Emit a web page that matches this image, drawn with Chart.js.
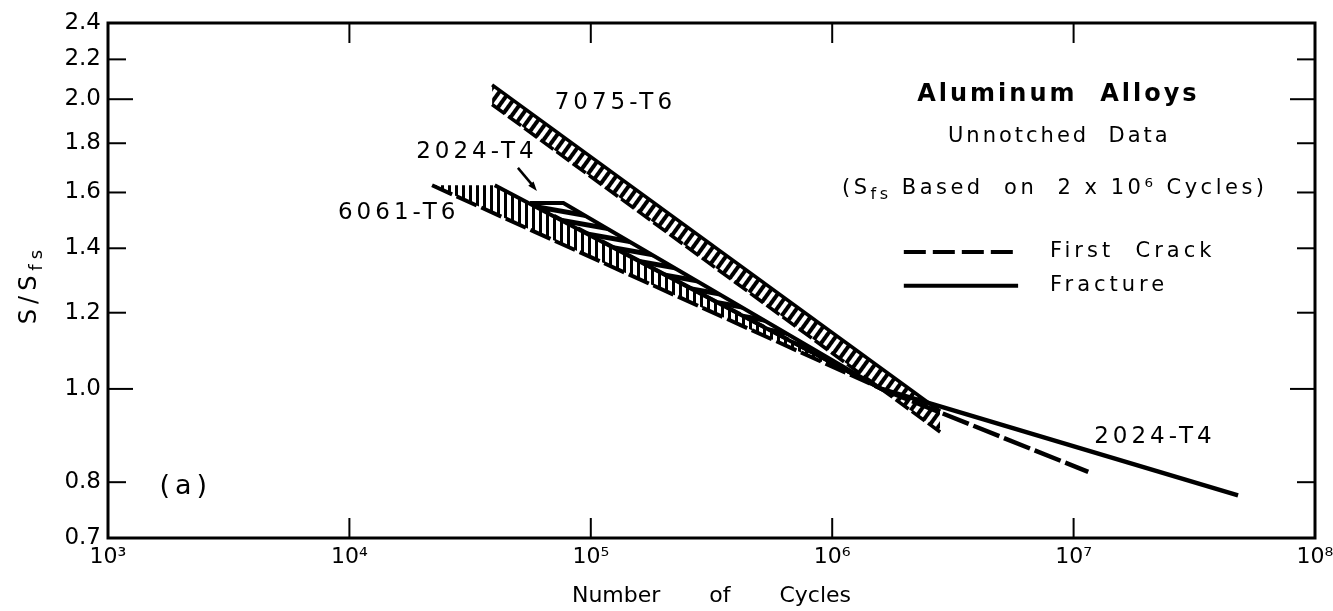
<!DOCTYPE html>
<html lang="en">
<head>
    <meta charset="UTF-8">
    <title>Aluminum Alloys - S/Sfs vs Number of Cycles</title>
    <script src="https://cdn.jsdelivr.net/npm/chart.js@4.4.0/dist/chart.umd.min.js"></script>
    <style>
        html, body { margin: 0; padding: 0; background: #fff; }
        #wrap { width: 1333px; height: 611px; }
    </style>
</head>
<body>
    <div id="wrap"><canvas id="snChart" width="1333" height="611"></canvas></div>
    <script>
        // axis ticks
        const cycleTicks = [1e3, 1e4, 1e5, 1e6, 1e7, 1e8];
        const cycleLabels = ['10³', '10⁴', '10⁵', '10⁶', '10⁷', '10⁸'];
        const ratioTicks = [0.7, 0.8, 1.0, 1.2, 1.4, 1.6, 1.8, 2.0, 2.2, 2.4];
        const ratioLabels = ['0.7', '0.8', '1.0', '1.2', '1.4', '1.6', '1.8', '2.0', '2.2', '2.4'];

        // 7075-T6 scatter band (first crack / fracture)
        const cycles7075 = [3.9e4, 2.8e6];
        const crack7075 = [1.975, 0.902];
        const fracture7075 = [2.07, 0.948];

        // 6061-T6 scatter band
        const crackCycles6061 = [2.2e4, 1.6e6];
        const crack6061 = [1.628, 1.0];
        const fractureCycles6061 = [2.2e4, 4.0e4, 1.6e6];
        const fracture6061 = [1.628, 1.628, 1.0];

        // 2024-T4 scatter band, lines go on past the crossing point
        const crackCycles2024 = [5.6e4, 1.6e6, 1.15e7];
        const crack2024 = [1.56, 1.0, 0.82];
        const fractureCycles2024 = [5.6e4, 7.7e4, 1.6e6, 4.8e7];
        const fracture2024 = [1.56, 1.56, 1.0, 0.775];
        const crossCycles = 1.6e6;

        const FONT = '"DejaVu Sans", sans-serif';
        Chart.defaults.font.family = FONT;
        Chart.defaults.color = '#000';

        const canvas = document.getElementById('snChart');
        const ctx = canvas.getContext('2d');

        function hatch(period, bar, angle) {
            const tile = document.createElement('canvas');
            tile.width = period;
            tile.height = period;
            const t = tile.getContext('2d');
            t.fillStyle = '#000';
            t.fillRect(0, 0, bar, period);
            const p = ctx.createPattern(tile, 'repeat');
            p.setTransform(new DOMMatrix().rotateSelf(angle));
            return p;
        }

        const pts = (xs, ys) => xs.map((x, i) => ({ x: x, y: ys[i] }));
        const upTo = (xs, ys, lim) => pts(xs, ys).filter(p => p.x <= lim);
        const from = (xs, ys, lim) => pts(xs, ys).filter(p => p.x >= lim);

        function line(data, extra) {
            return Object.assign({
                data: data,
                borderColor: '#000',
                borderWidth: 4,
                pointRadius: 0,
                pointHoverRadius: 0,
                fill: false,
                tension: 0,
                borderCapStyle: 'butt'
            }, extra);
        }

        // text helper: parts = [[text, size, weight, dy]]
        function drawRuns(c, parts, x, y, align, spacing) {
            c.letterSpacing = spacing + 'px';
            c.textAlign = 'left';
            c.textBaseline = 'middle';
            const fontOf = p => (p[2] || 'normal') + ' ' + p[1] + 'px ' + FONT;
            const widths = parts.map(p => { c.font = fontOf(p); return c.measureText(p[0]).width; });
            const total = widths.reduce((a, b) => a + b, 0) - spacing;
            let cx = align === 'center' ? x - total / 2 : (align === 'right' ? x - total : x);
            parts.forEach((p, i) => {
                c.font = fontOf(p);
                c.fillText(p[0], cx, y + (p[3] || 0));
                cx += widths[i];
            });
            c.letterSpacing = '0px';
        }

        const decorPlugin = {
            id: 'decor',
            afterDraw(chart) {
                const c = chart.ctx;
                const a = chart.chartArea;
                const xs = chart.scales.x, ys = chart.scales.y;
                const px = v => xs.getPixelForValue(v);
                const py = v => ys.getPixelForValue(v);
                const seg = (x1, y1, x2, y2) => { c.beginPath(); c.moveTo(x1, y1); c.lineTo(x2, y2); c.stroke(); };

                c.save();
                c.strokeStyle = '#000';
                c.fillStyle = '#000';

                // frame
                c.lineWidth = 3;
                c.strokeRect(a.left, a.top, a.right - a.left, a.bottom - a.top);

                // inward tick marks
                c.lineWidth = 2;
                ratioTicks.forEach(v => {
                    if (v === ys.min || v === ys.max) return;
                    const len = (v === 1.0 || v === 2.0) ? 25 : 18;
                    const y = py(v);
                    seg(a.left, y, a.left + len, y);
                    seg(a.right, y, a.right - len, y);
                });
                cycleTicks.forEach(v => {
                    if (v === xs.min || v === xs.max) return;
                    const x = px(v);
                    seg(x, a.bottom, x, a.bottom - 20);
                    seg(x, a.top, x, a.top + 20);
                });

                // curve labels
                drawRuns(c, [['7075-T6', 23]], px(1.24e5), py(1.983), 'center', 4);
                drawRuns(c, [['2024-T4', 23]], px(3.31e4), py(1.763), 'center', 4);
                drawRuns(c, [['6061-T6', 23]], px(1.57e4), py(1.524), 'center', 4);
                drawRuns(c, [['2024-T4', 23]], px(2.13e7), py(0.892), 'center', 4);
                drawRuns(c, [['(a)', 27]], px(2.05e3), py(0.791), 'center', 5);

                // arrow to the 2024-T4 band
                const ax1 = px(4.99e4), ay1 = py(1.697), ax2 = px(5.98e4), ay2 = py(1.606);
                c.lineWidth = 2.5;
                seg(ax1, ay1, ax2 - 3, ay2 - 4);
                const ang = Math.atan2(ay2 - ay1, ax2 - ax1);
                c.beginPath();
                c.moveTo(ax2, ay2);
                c.lineTo(ax2 - 10 * Math.cos(ang - 0.35), ay2 - 10 * Math.sin(ang - 0.35));
                c.lineTo(ax2 - 10 * Math.cos(ang + 0.35), ay2 - 10 * Math.sin(ang + 0.35));
                c.closePath();
                c.fill();

                // title block
                drawRuns(c, [['Aluminum  Alloys', 24, 'bold']], px(8.53e6), py(2.02), 'center', 3);
                drawRuns(c, [['Unnotched  Data', 21]], px(8.6e6), py(1.83), 'center', 3);
                drawRuns(c, [['(S', 21], ['fs', 16, 'normal', 6], [' Based  on  2 x 10⁶ Cycles)', 21]],
                    px(8.22e6), py(1.615), 'center', 3.5);

                // legend
                const lx1 = px(1.98e6), lx2 = px(5.89e6);
                c.lineWidth = 4;
                c.setLineDash([22, 7]);
                seg(lx1, py(1.388), lx2, py(1.388));
                c.setLineDash([]);
                seg(lx1, py(1.28), lx2, py(1.28));
                drawRuns(c, [['First  Crack', 21]], px(7.98e6), py(1.388), 'left', 4);
                drawRuns(c, [['Fracture', 21]], px(7.98e6), py(1.28), 'left', 4);

                // y axis title S/Sfs
                c.translate(ys.left + 30, py(1.276));
                c.rotate(-Math.PI / 2);
                drawRuns(c, [['S/S', 24], ['fs', 18, 'normal', 7]], 0, 0, 'center', 5);
                c.restore();
            }
        };

        new Chart(ctx, {
            type: 'line',
            data: {
                datasets: [
                    line(pts(cycles7075, crack7075), { label: '7075-T6 first crack', borderWidth: 3.5, borderDash: [16, 4] }),
                    line(pts(cycles7075, fracture7075), { label: '7075-T6 fracture', borderWidth: 3.5, fill: '-1', backgroundColor: hatch(8, 4, 36) }),
                    line(pts(crackCycles6061, crack6061), { label: '6061-T6 first crack', borderDash: [22, 5] }),
                    line(pts(fractureCycles6061, fracture6061), {
                        label: '6061-T6 fracture', fill: '-1', backgroundColor: hatch(7, 3, 0),
                        segment: { borderColor: s => s.p0DataIndex === 0 ? 'rgba(0,0,0,0)' : '#000' }
                    }),
                    line(upTo(crackCycles2024, crack2024, crossCycles), { label: '2024-T4 first crack', borderDash: [22, 5] }),
                    line(upTo(fractureCycles2024, fracture2024, crossCycles), { label: '2024-T4 fracture', fill: '-1', backgroundColor: hatch(9, 5, 100) }),
                    line(from(crackCycles2024, crack2024, crossCycles), { label: '2024-T4 first crack (tail)', borderWidth: 4.5, borderDash: [28, 5] }),
                    line(from(fractureCycles2024, fracture2024, crossCycles), { label: '2024-T4 fracture (tail)', borderWidth: 4.5 })
                ]
            },
            options: {
                responsive: false,
                animation: false,
                devicePixelRatio: 1,
                layout: { padding: { top: 23, right: 18, left: 0, bottom: 0 } },
                plugins: {
                    legend: { display: false },
                    tooltip: { enabled: false }
                },
                scales: {
                    x: {
                        type: 'logarithmic',
                        min: 1e3,
                        max: 1e8,
                        afterBuildTicks: s => { s.ticks = cycleTicks.map(v => ({ value: v })); },
                        afterFit: s => { s.height = 73; s.paddingLeft = 0; s.paddingRight = 0; },
                        grid: { display: false, drawTicks: false },
                        border: { display: false },
                        ticks: {
                            callback: (v, i) => cycleLabels[i],
                            font: { size: 22 },
                            color: '#000',
                            padding: 6,
                            maxRotation: 0,
                            autoSkip: false
                        },
                        title: {
                            display: true,
                            text: 'Number       of       Cycles',
                            font: { size: 22 },
                            color: '#000',
                            padding: { top: 0, bottom: 2 }
                        }
                    },
                    y: {
                        type: 'logarithmic',
                        min: 0.7,
                        max: 2.4,
                        afterBuildTicks: s => { s.ticks = ratioTicks.map(v => ({ value: v })); },
                        afterFit: s => { s.width = 108; },
                        grid: { display: false, drawTicks: false },
                        border: { display: false },
                        ticks: {
                            callback: (v, i) => ratioLabels[i],
                            font: { size: 23 },
                            color: '#000',
                            padding: 7,
                            autoSkip: false
                        }
                    }
                }
            },
            plugins: [decorPlugin]
        });
    </script>
</body>
</html>
